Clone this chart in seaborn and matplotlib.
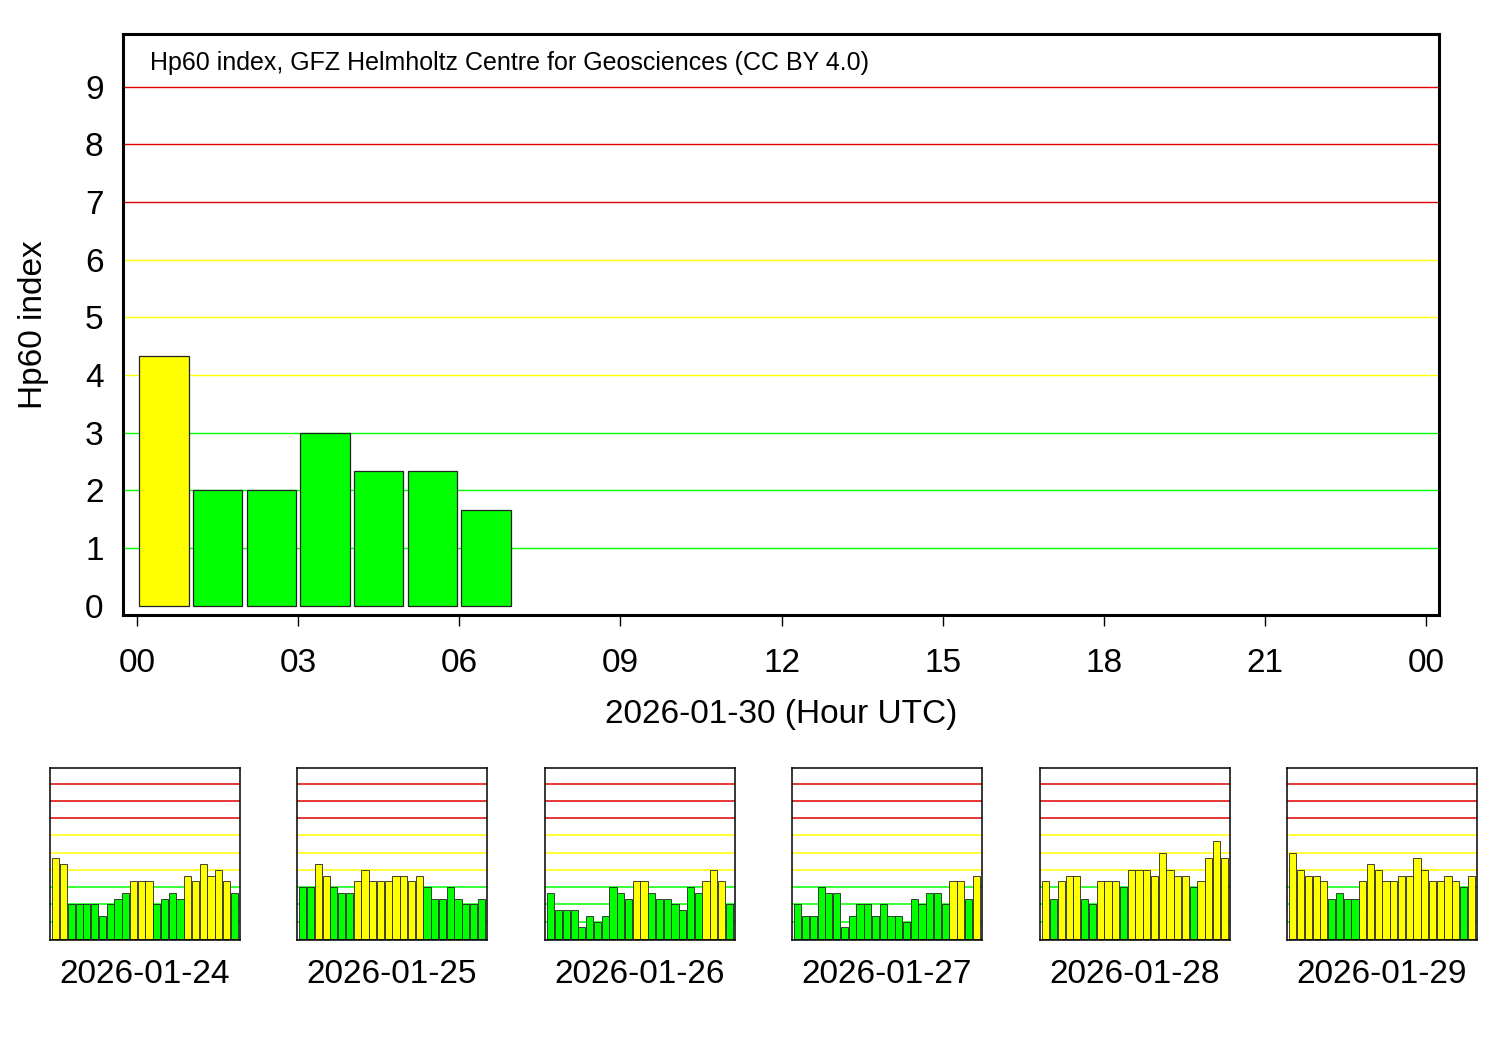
import numpy as np
import pandas as pd
import matplotlib
matplotlib.use("Agg")
import matplotlib.pyplot as plt
import seaborn as sns

# ---------------- data ----------------
main_day = "2026-01-30"
main_hours = [0, 1, 2, 3, 4, 5, 6]
main_values = [4.333, 2.0, 2.0, 3.0, 2.333, 2.333, 1.667]

hour_ticks = [0, 3, 6, 9, 12, 15, 18, 21, 24]
hour_labels = ["00", "03", "06", "09", "12", "15", "18", "21", "00"]

small_days = ["2026-01-24", "2026-01-25", "2026-01-26", "2026-01-27", "2026-01-28", "2026-01-29"]
small_hours = list(range(24))
hp_0124 = [4.667, 4.333, 2, 2, 2, 2, 1.333, 2, 2.333, 2.667, 3.333, 3.333,
           3.333, 2, 2.333, 2.667, 2.333, 3.667, 3.333, 4.333, 3.667, 4, 3.333, 2.667]
hp_0125 = [3, 3, 4.333, 3.667, 3, 2.667, 2.667, 3.333, 4, 3.333, 3.333, 3.333,
           3.667, 3.667, 3.333, 3.667, 3, 2.333, 2.333, 3, 2.333, 2, 2, 2.333]
hp_0126 = [2.667, 1.667, 1.667, 1.667, 0.667, 1.333, 1, 1.333, 3, 2.667, 2.333, 3.333,
           3.333, 2.667, 2.333, 2.333, 2, 1.667, 3, 2.667, 3.333, 4, 3.333, 2]
hp_0127 = [2, 1.333, 1.333, 3, 2.667, 2.667, 0.667, 1.333, 2, 2, 1.333, 2,
           1.333, 1.333, 1, 2.333, 2, 2.667, 2.667, 2, 3.333, 3.333, 2.333, 3.667]
hp_0128 = [3.333, 2.333, 3.333, 3.667, 3.667, 2.333, 2, 3.333, 3.333, 3.333, 3, 4,
           4, 4, 3.667, 5, 4, 3.667, 3.667, 3, 3.333, 4.667, 5.667, 4.667]
hp_0129 = [5, 4, 3.667, 3.667, 3.333, 2.333, 2.667, 2.333, 2.333, 3.333, 4.333, 4,
           3.333, 3.333, 3.667, 3.667, 4.667, 4, 3.333, 3.333, 3.667, 3.333, 3, 3.667]
small_values = [hp_0124, hp_0125, hp_0126, hp_0127, hp_0128, hp_0129]

grid_levels = [1, 2, 3, 4, 5, 6, 7, 8, 9]

# ---------------- style ----------------
sns.set_theme(style="white")
plt.rcParams["font.family"] = ["Liberation Sans", "DejaVu Sans"]
plt.rcParams["text.color"] = "black"
plt.rcParams["axes.labelcolor"] = "black"
plt.rcParams["xtick.color"] = "black"
plt.rcParams["ytick.color"] = "black"

palette = {"low": "#00ff00", "mid": "#ffff00", "high": "#ff0000"}
grid_colors = ["#00ff00"] * 3 + ["#ffff00"] * 3 + ["#e00000"] * 3


def level(v):
    if v < 3.2:
        return "low"
    if v < 6.2:
        return "mid"
    return "high"


def draw_bars(ax, hours, values, grid_lw, edge_lw):
    df = pd.DataFrame({
        "hour": np.asarray(hours, dtype=float) + 0.5,
        "hp": values,
        "lvl": [level(v) for v in values],
    })
    for lv, c in zip(grid_levels, grid_colors):
        ax.axhline(lv, color=c, lw=grid_lw, zorder=0)
    sns.barplot(data=df, x="hour", y="hp", hue="lvl", palette=palette,
                native_scale=True, width=0.92, dodge=False, legend=False,
                saturation=1, edgecolor="#222222", linewidth=edge_lw,
                errorbar=None, ax=ax, zorder=2)
    ax.set_xlim(-0.26, 24.24)


fig = plt.figure(figsize=(15, 10.5), dpi=100)
W, H = 1500, 1050

# ---------------- main panel ----------------
ax = fig.add_axes([123 / W, 1 - 615 / H, (1439 - 123) / W, (615 - 34) / H])
draw_bars(ax, main_hours, main_values, grid_lw=1.0, edge_lw=0.9)
ax.set_ylim(-0.16, 9.91)
ax.set_xticks(hour_ticks)
ax.set_xticklabels(hour_labels)
ax.set_yticks(list(range(10)))
ax.tick_params(axis="x", direction="out", length=8, width=1.0, pad=16,
               labelsize=24, bottom=True, color="black")
ax.tick_params(axis="y", length=0, pad=14, labelsize=24)
ax.set_xlabel(f"{main_day} (Hour UTC)", fontsize=24, labelpad=14)
ax.set_ylabel("Hp60 index", fontsize=24, labelpad=26)
for s in ax.spines.values():
    s.set_color("black")
    s.set_linewidth(2.2)
ax.text(0.0205, 0.950, "Hp60 index, GFZ Helmholtz Centre for Geosciences (CC BY 4.0)",
        transform=ax.transAxes, fontsize=18, ha="left", va="center", color="black")

# ---------------- small panels ----------------
lefts = [50, 297, 545, 792, 1040, 1287]
for left, day, vals in zip(lefts, small_days, small_values):
    sax = fig.add_axes([left / W, 1 - 940 / H, 190 / W, (940 - 768) / H])
    draw_bars(sax, small_hours, vals, grid_lw=1.1, edge_lw=0.6)
    sax.set_ylim(-0.06, 9.9)
    sax.set_xticks([])
    sax.set_yticks([])
    sax.set_ylabel("")
    sax.set_xlabel(day, fontsize=24, labelpad=14)
    for s in sax.spines.values():
        s.set_color("black")
        s.set_linewidth(1.1)

fig.savefig("out.png", dpi=100)
